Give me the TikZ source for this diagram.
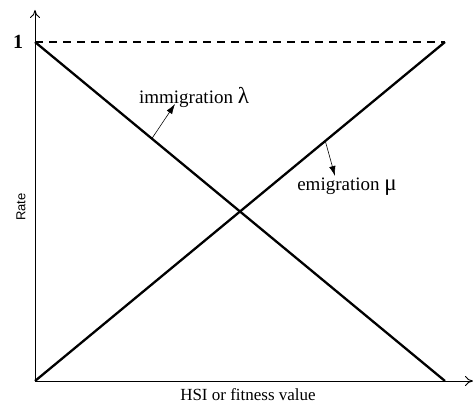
\documentclass[tikz,border=0pt]{standalone}
\usepackage{fontspec}
\setmainfont{Liberation Serif}
\setsansfont{Liberation Sans}
\usetikzlibrary{arrows.meta,calc}
\begin{document}
\begin{tikzpicture}[x=1pt,y=-1pt,
  axis/.style={line width=0.9pt,-{To[length=8pt,width=10pt]}},
  rateline/.style={line width=2.3pt},
  pointer/.style={line width=0.6pt,-{Latex[length=10pt,width=6.5pt]}},
  lbl/.style={inner sep=0pt,font=\fontsize{19}{22}\selectfont},
  greek/.style={font=\fontsize{23}{24}\selectfont},
  axlbl/.style={inner sep=0pt,font=\fontsize{17}{20}\selectfont}]
\useasboundingbox (0,0) rectangle (473,406);
\coordinate (O) at (35,381);
\coordinate (Ytop) at (35,10);
\coordinate (Xend) at (473,381);
\coordinate (A) at (35,42);
\coordinate (B) at (445,381);
\coordinate (C) at (445,42);
\draw[axis] (O) -- (Ytop);
\draw[axis] (O) -- (Xend);
\draw[line width=1.3pt, dash pattern=on 8pt off 6pt] (A) -- (C);
\draw[rateline] (A) -- (B);
\draw[rateline] (O) -- (C);
\node[inner sep=0pt,font=\bfseries\fontsize{20}{22}\selectfont] (one) at (18,42) {1};
\node[lbl] (imm) at (194,97) {immigration {\fontsize{23}{24}\selectfont λ}};
\node[lbl] (emi) at (347,187) {emigration {\fontsize{23}{24}\selectfont μ}};
\coordinate (immfrom) at ($(A)!0.285!(B)$);
\coordinate (immto) at (175,104);
\coordinate (emifrom) at ($(O)!0.708!(C)$);
\coordinate (emito) at (335,176);
\draw[pointer] (immfrom) -- (immto);
\draw[pointer] (emifrom) -- (emito);
\node[inner sep=0pt,font=\sffamily\fontsize{13}{15}\selectfont,rotate=90] (rate) at (21,207) {Rate};
\node[axlbl] (hsi) at (248,395) {HSI or fitness value};
\end{tikzpicture}
\end{document}
